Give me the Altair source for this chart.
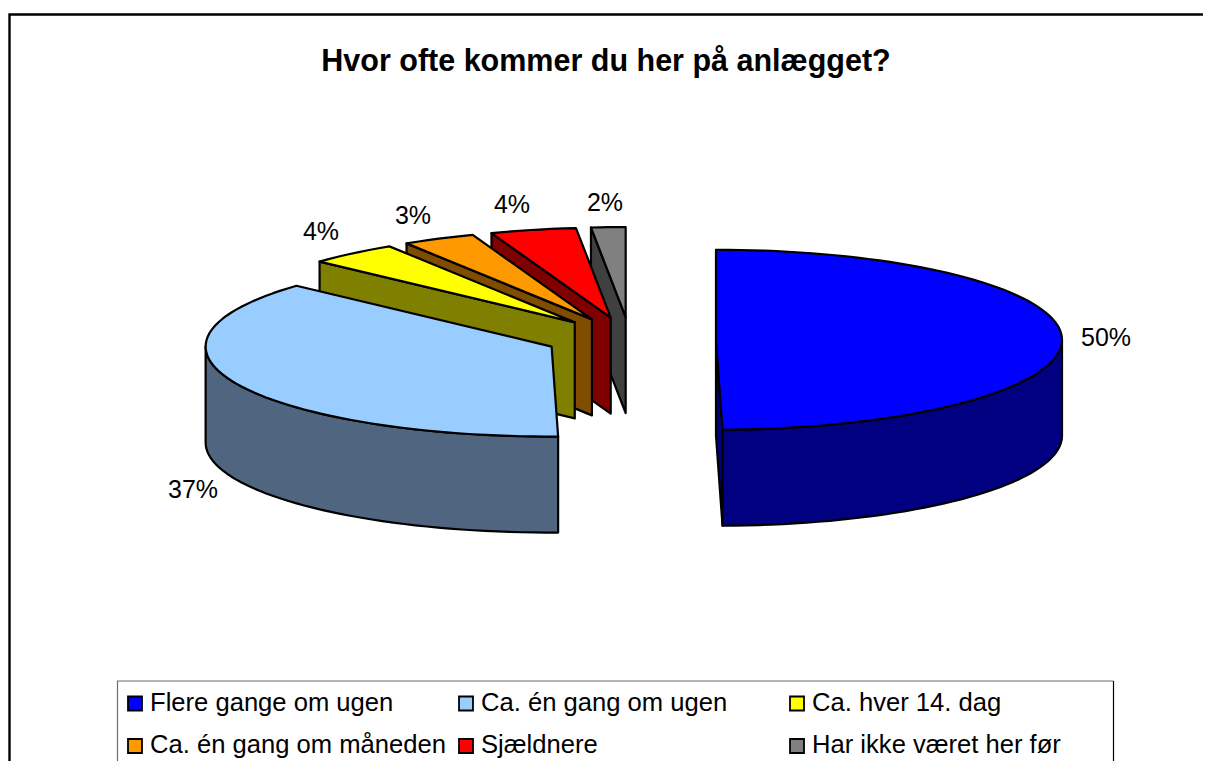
import math
import altair as alt
import pandas as pd

# ---- chart values
categories = ["Flere gange om ugen", "Ca. én gang om ugen", "Ca. hver 14. dag",
              "Ca. én gang om måneden", "Sjældnere", "Har ikke været her før"]
shares = [49.7, 37.1, 4.2, 3.4, 4.0, 1.6]
pct_labels = ["50%", "37%", "4%", "3%", "4%", "2%"]
top_colors = ["#0000FF", "#99CCFF", "#FFFF00", "#FF9900", "#FF0000", "#808080"]
side_colors = ["#000080", "#506680", "#808000", "#804D00", "#800000", "#404040"]
title_text = "Hvor ofte kommer du her på anlægget?"

# ---- layout
W, H = 1203, 761
CX, CY, RX, RY, DEPTH, EX = 630, 340, 346, 90, 96, 86
EY_BACK, EY_FRONT = 23, 16
label_x = [1106, 193, 321, 413, 512, 605]
label_y = [346, 498, 240, 224, 213, 211]
legend_col_x = [135, 466, 797]
legend_row_y = [703.5, 746]
legend_text_y = [711, 753]
legend_order = [(0, 0, 0), (1, 1, 0), (2, 2, 0), (3, 0, 1), (4, 1, 1), (5, 2, 1)]

x_scale = alt.Scale(domain=[8, W], range=[0, W - 8], nice=False, zero=False)
y_scale = alt.Scale(domain=[8, H], range=[0, H - 8], nice=False, zero=False)
X = lambda f: alt.X(f, type="quantitative", scale=x_scale, axis=None)
Y = lambda f: alt.Y(f, type="quantitative", scale=y_scale, axis=None)


def rim(cx, cy, a):
    r = math.radians(a)
    return cx + RX * math.sin(r), cy - RY * math.cos(r)


rows = []
pid = 0


def poly(pts, fill):
    global pid
    for k, (px, py) in enumerate(pts):
        rows.append(dict(pid=pid, k=k, px=px, py=py, fill=fill))
    pid += 1


start = 0.0
spans = []
for s in shares:
    spans.append((start, start + s * 3.6))
    start += s * 3.6

# painter's order: back slices first, the large blue one last
for i in [5, 4, 3, 2, 1, 0]:
    a0, a1 = spans[i]
    mid = math.radians((a0 + a1) / 2)
    cx = CX + EX * math.sin(mid)
    ey = EY_BACK if math.cos(mid) > 0 else EY_FRONT
    cy = CY - ey * math.cos(mid)
    steps = max(4, int((a1 - a0) / 2))
    angles = [a0 + (a1 - a0) * t / steps for t in range(steps + 1)]
    if i == 0:  # closing wall of the half pie, seen from the left
        p = rim(cx, cy, a1)
        poly([(cx, cy), p, (p[0], p[1] + DEPTH), (cx, cy + DEPTH)], side_colors[i])
    if i >= 2:  # opening wall of the slices behind the centre
        p = rim(cx, cy, a0)
        poly([(cx, cy), p, (p[0], p[1] + DEPTH), (cx, cy + DEPTH)], side_colors[i])
    front = [a for a in angles if 90 <= a <= 270]
    if i == 0:
        front = [90.0] + front
    if i == 1:
        front = front + [270.0]
    if len(front) >= 2:
        top = [rim(cx, cy, a) for a in front]
        poly(top + [(q[0], q[1] + DEPTH) for q in reversed(top)], side_colors[i])
    poly([(cx, cy)] + [rim(cx, cy, a) for a in angles], top_colors[i])

pie = alt.Chart(pd.DataFrame(rows)).mark_line(
    interpolate="linear-closed", stroke="black", strokeWidth=2.2, strokeJoin="round"
).encode(
    x=X("px"), y=Y("py"),
    fill=alt.Fill("fill:N", scale=None),
    detail="pid:N",
    order="k:Q",
)

frame_df = pd.DataFrame({"x": [9.5, 9.5, W], "y": [H, 14.5, 14.5]})
frame = alt.Chart(frame_df.reset_index()).mark_line(color="black", strokeWidth=2.4).encode(
    x=X("x"), y=Y("y"), order="index:Q")

legend_bg = alt.Chart(pd.DataFrame({"x": [117.5], "x2": [1113.5], "y": [681.5], "y2": [H]})).mark_rect(
    fill="white").encode(x=X("x"), x2="x2:Q", y=Y("y"), y2="y2:Q")
legend_grey_df = pd.DataFrame({"x": [117.5, 117.5, 1113.5], "y": [H, 681, 681]})
legend_grey = alt.Chart(legend_grey_df.reset_index()).mark_line(color="#6e6e6e", strokeWidth=1.2).encode(
    x=X("x"), y=Y("y"), order="index:Q")
legend_right_df = pd.DataFrame({"x": [1113.5, 1113.5], "y": [681, H]})
legend_right = alt.Chart(legend_right_df.reset_index()).mark_line(color="black", strokeWidth=1.2).encode(
    x=X("x"), y=Y("y"), order="index:Q")

leg = pd.DataFrame([
    dict(name=categories[i], color=top_colors[i], x=legend_col_x[c], y=legend_row_y[r],
         tx=legend_col_x[c] + 15, ty=legend_text_y[r])
    for i, c, r in legend_order
])
swatches = alt.Chart(leg).mark_square(size=196, filled=True, stroke="black", strokeWidth=1.8, opacity=1).encode(
    x=X("x"), y=Y("y"), fill=alt.Fill("color:N", scale=None))
legend_text = alt.Chart(leg).mark_text(
    align="left", baseline="alphabetic", font="Liberation Sans", fontSize=25.6, color="black"
).encode(x=X("tx"), y=Y("ty"), text="name:N")

labels = alt.Chart(pd.DataFrame({"x": label_x, "y": label_y, "t": pct_labels})).mark_text(
    font="Liberation Sans", fontSize=25, color="black", baseline="alphabetic"
).encode(x=X("x"), y=Y("y"), text="t:N")

title = alt.Chart(pd.DataFrame({"x": [606], "y": [71], "t": [title_text]})).mark_text(
    font="Liberation Sans", fontSize=30.5, fontWeight="bold", color="black", baseline="alphabetic"
).encode(x=X("x"), y=Y("y"), text="t:N")

chart = alt.layer(frame, pie, labels, title, legend_bg, legend_grey, legend_right, swatches, legend_text).properties(
    width=W - 8, height=H - 8, padding=0, autosize=alt.AutoSizeParams(type="none"),
    background="white",
).configure_view(stroke=None)

chart.save("out.html", embed_options={"renderer": "svg", "actions": False})
